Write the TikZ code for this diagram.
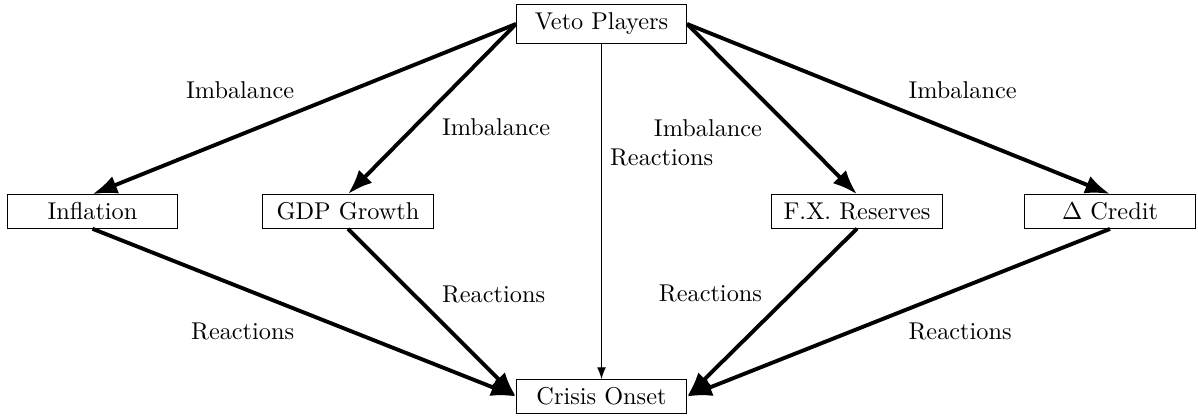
\documentclass[tikz,border=0pt]{standalone}
\usetikzlibrary{arrows.meta}
\begin{document}
\begin{tikzpicture}[x=0.4115pt,y=-0.4115pt,
  box/.style={draw,minimum width=70pt},
  bigarrow/.style={ultra thick,-{Latex}},
  thinarrow/.style={-{Latex}}]
\useasboundingbox (0,0) rectangle (1198,416);
\node[box] (veto) at (601.5,24) {Veto Players};
\node[box] (infl) at (92.5,211.5) {Inflation};
\node[box] (gdp) at (348,211.5) {GDP Growth};
\node[box] (fx) at (857,211.5) {F.X. Reserves};
\node[box] (cred) at (1110,211.5) {$\Delta$ Credit};
\node[box] (crisis) at (601.5,396.5) {Crisis Onset};
\draw[bigarrow] (veto.west) -- node[above left]{Imbalance} (infl.north);
\draw[bigarrow] (veto.west) -- node[below right]{Imbalance} (gdp.north);
\draw[bigarrow] (veto.east) -- node[below left]{Imbalance} (fx.north);
\draw[bigarrow] (veto.east) -- node[above right]{Imbalance} (cred.north);
\draw[bigarrow] (infl.south) -- node[below left]{Reactions} (crisis.west);
\draw[bigarrow] (gdp.south) -- node[above right]{Reactions} (crisis.west);
\draw[bigarrow] (fx.south) -- node[above left]{Reactions} (crisis.east);
\draw[bigarrow] (cred.south) -- node[below right]{Reactions} (crisis.east);
\draw[thinarrow] (veto.south) -- node[pos=0.34,right]{Reactions} (crisis.north);
\end{tikzpicture}
\end{document}
